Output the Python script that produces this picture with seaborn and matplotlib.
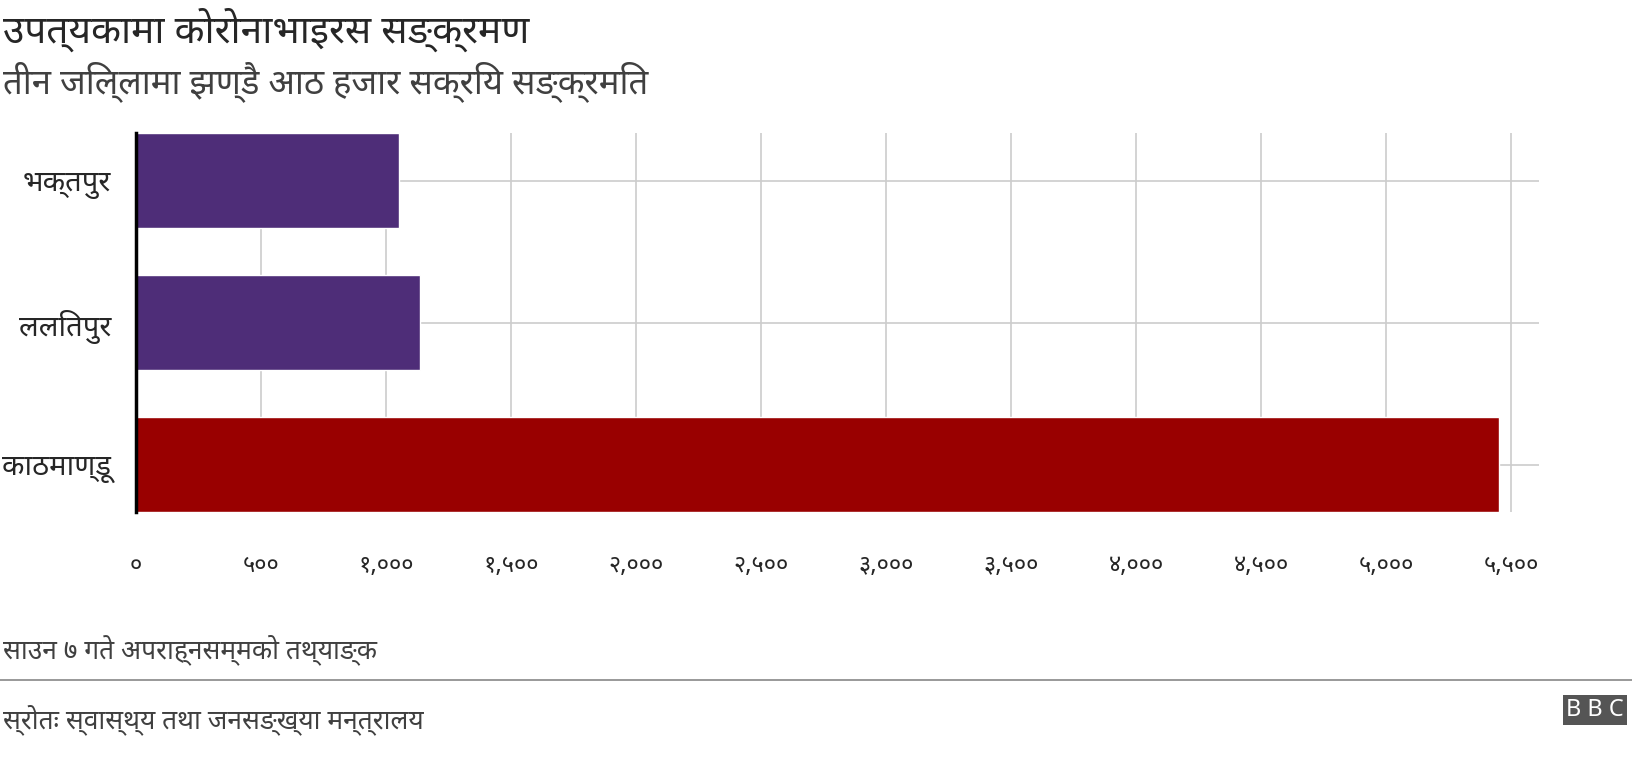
import matplotlib
matplotlib.use("Agg")
import matplotlib.pyplot as plt
import seaborn as sns
import pandas as pd

districts = ['भक्तपुर', 'ललितपुर', 'काठमाण्डू']
cases = [1051, 1135, 5452]
bar_colors = ['#4e2d78', '#4e2d78', '#990000']
ticks = [0, 500, 1000, 1500, 2000, 2500, 3000, 3500, 4000, 4500, 5000, 5500]
tick_labels = ['०', '५००', '१,०००', '१,५००', '२,०००', '२,५००', '३,०००',
               '३,५००', '४,०००', '४,५००', '५,०००', '५,५००']

sns.set_style("white")
plt.rcParams['font.family'] = ['Noto Sans Devanagari', 'Noto Sans', 'DejaVu Sans']

df = pd.DataFrame({'district': districts, 'cases': cases})

fig = plt.figure(figsize=(16.32, 7.74), dpi=100)
ax = fig.add_axes([0.0833, 0.338, 0.860, 0.49])
sns.barplot(data=df, y='district', x='cases', hue='district', palette=bar_colors,
            legend=False, width=0.67, saturation=1, ax=ax)
ax.set_xlim(0, 5612)
ax.set_ylim(2.335, -0.335)
ax.set_xticks(ticks)
ax.set_xticklabels(tick_labels, fontsize=17, weight='bold')
ax.tick_params(axis='x', pad=30, length=0)
ax.tick_params(axis='y', labelsize=21, length=0, pad=18)
ax.grid(True, color='#cccccc', lw=1.2)
ax.set_axisbelow(True)
for s in ['top', 'right', 'bottom']:
    ax.spines[s].set_visible(False)
ax.spines['left'].set_color('black')
ax.spines['left'].set_linewidth(2.5)
ax.set_xlabel('')
ax.set_ylabel('')
ax.set_clip_on(False)

fig.text(0.002, 0.962, 'उपत्यकामा कोरोनाभाइरस सङ्क्रमण', fontsize=28, weight='bold', va='center')
fig.text(0.002, 0.895, 'तीन जिल्लामा झण्डै आठ हजार सक्रिय सङ्क्रमित', fontsize=25, color='#404040', va='center')
fig.text(0.002, 0.16, 'साउन ७ गते अपराह्नसम्मको तथ्याङ्क', fontsize=19, color='#404040', va='center')
fig.add_artist(plt.Line2D([0, 1], [0.122, 0.122], color='#888888', lw=1.2, transform=fig.transFigure))
fig.text(0.002, 0.07, 'स्रोतः स्वास्थ्य तथा जनसङ्ख्या मन्त्रालय', fontsize=19, color='#404040', va='center')
fig.text(0.995, 0.083, 'B B C', fontsize=17, weight='bold', color='white', ha='right', va='center',
         bbox=dict(facecolor='#555555', edgecolor='none', pad=2))

fig.savefig('out.png', dpi=100)
